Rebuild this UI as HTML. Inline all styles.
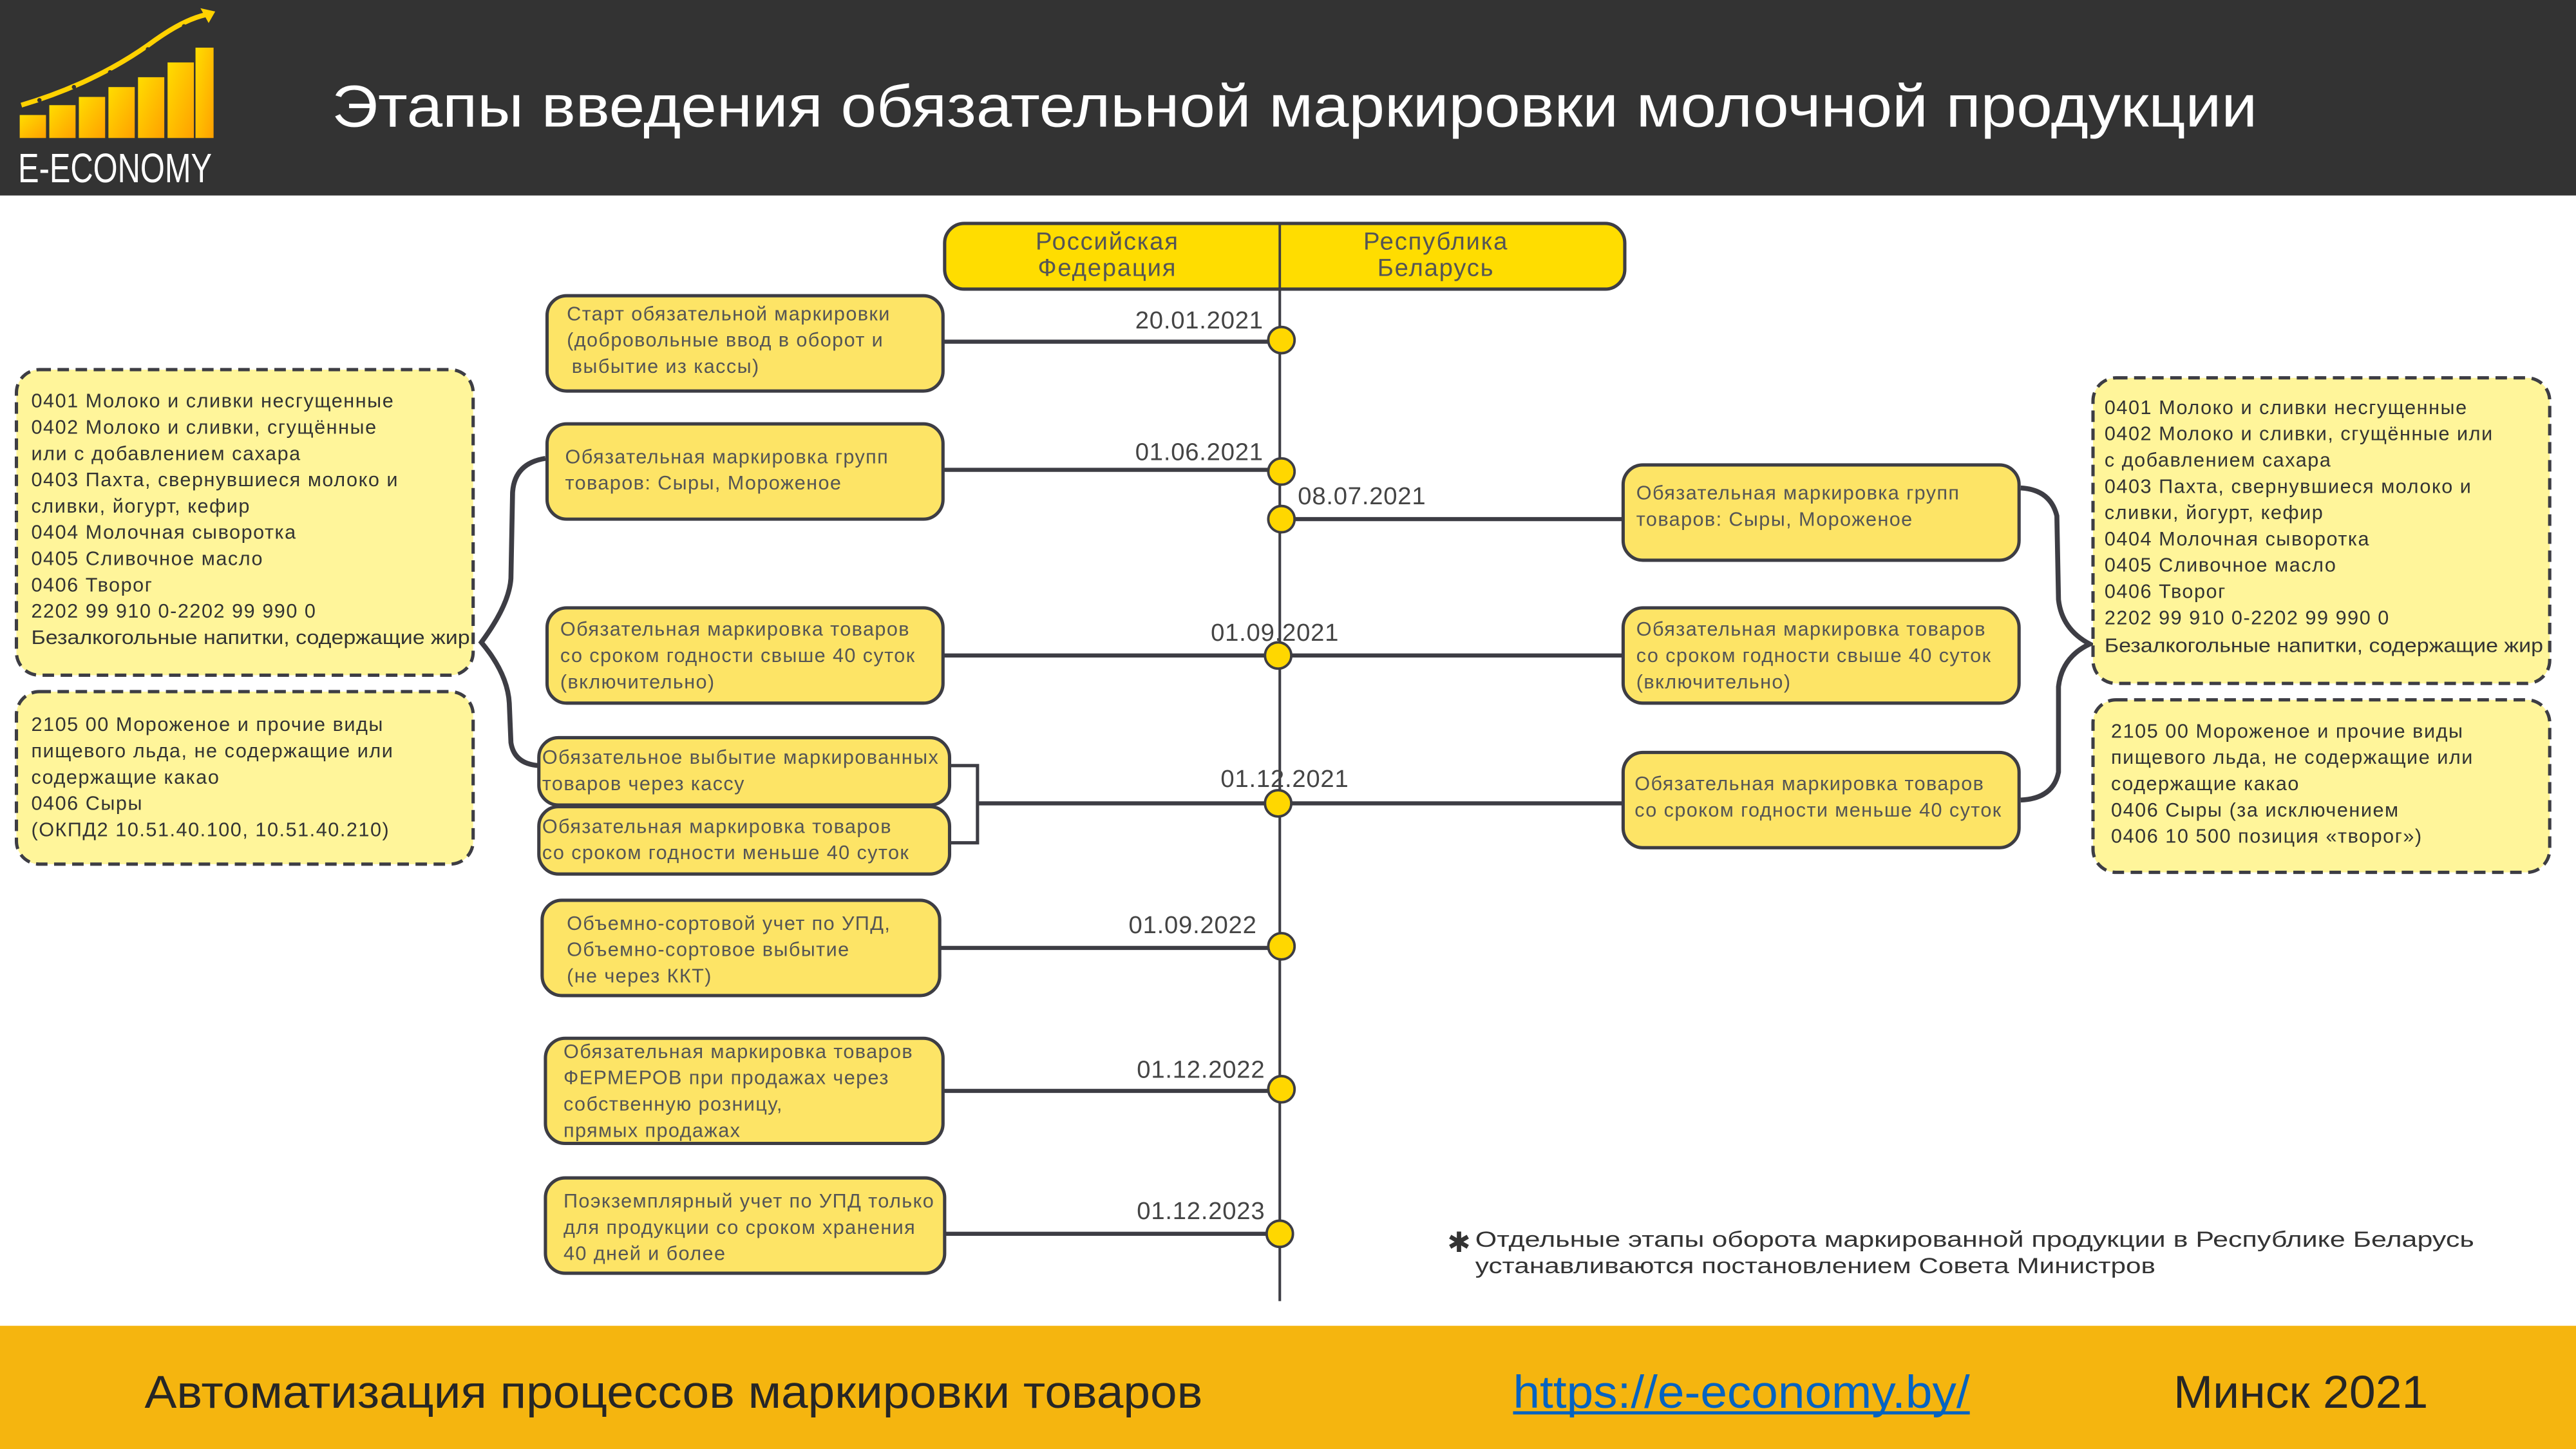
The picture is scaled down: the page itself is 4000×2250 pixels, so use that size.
<!DOCTYPE html>
<html><head><meta charset="utf-8"><style>
html,body{margin:0;padding:0;background:#fff;}
svg{display:block;}
text{font-family:"Liberation Sans","DejaVu Sans",sans-serif;}
</style></head><body>
<svg width="4000" height="2250" viewBox="0 0 1568 882" preserveAspectRatio="none" xmlns="http://www.w3.org/2000/svg">
<defs>
<linearGradient id="bar" x1="0" y1="0" x2="1" y2="1"><stop offset="0" stop-color="#FFDD00"/><stop offset="1" stop-color="#FFA000"/></linearGradient>
</defs>
<rect x="0" y="0" width="1568" height="882" fill="#fff"/>
<!-- header -->
<rect x="0" y="0" width="1568" height="119" fill="#333333"/>
<g fill="url(#bar)">
<rect x="12" y="70" width="16" height="14"/><rect x="30" y="64" width="16" height="20"/>
<rect x="48" y="59" width="16" height="25"/><rect x="66" y="53" width="16" height="31"/>
<rect x="84" y="47" width="16" height="37"/><rect x="102" y="38" width="16" height="46"/>
<rect x="119" y="29" width="11" height="55"/>
</g>
<path d="M13 64 Q60 50 95 24 Q112 12 125 9" stroke="#FFD200" stroke-width="3" fill="none"/>
<g fill="#333"><circle cx="24" cy="61" r="1.3"/><circle cx="45" cy="53" r="1.3"/><circle cx="67" cy="44" r="1.3"/><circle cx="90" cy="30" r="1.3"/><circle cx="112" cy="16" r="1.3"/></g>
<path d="M122 5 L131 7 L127 14 Z" fill="#FFD200"/>
<text x="11" y="111" font-size="25" fill="#fff" textLength="118" lengthAdjust="spacingAndGlyphs">E-ECONOMY</text>
<text x="202" y="77" font-size="36" fill="#fff" textLength="1172" lengthAdjust="spacingAndGlyphs">Этапы введения обязательной маркировки молочной продукции</text>

<!-- timeline -->
<line x1="779" y1="137" x2="779" y2="792" stroke="#3d3d44" stroke-width="1.6"/>
<rect x="575" y="136" width="414" height="40" rx="12" fill="#FFDD00" stroke="#3d3d44" stroke-width="2"/>
<line x1="779" y1="136" x2="779" y2="176" stroke="#3d3d44" stroke-width="1.5"/>
<g font-size="15" fill="#555" text-anchor="middle" letter-spacing="0.7">
<text x="674" y="152">Российская</text><text x="674" y="168">Федерация</text>
<text x="874" y="152">Республика</text><text x="874" y="168">Беларусь</text>
</g>

<!-- connectors -->
<g stroke="#3d3d44" stroke-width="2.5" fill="none">
<line x1="574" y1="208" x2="779" y2="208"/>
<line x1="574" y1="286" x2="779" y2="286"/>
<line x1="779" y1="316" x2="988" y2="316"/>
<line x1="574" y1="399" x2="988" y2="399"/>
<line x1="595" y1="489" x2="988" y2="489"/>
<line x1="572" y1="577" x2="779" y2="577"/>
<line x1="574" y1="664" x2="779" y2="664"/>
<line x1="575" y1="751" x2="779" y2="751"/>
<path d="M578 466 H595 V513 H578" stroke-width="2"/>
<path d="M332 279 Q313 282 312 300 L311 352 Q310 368 293 391 Q309 410 310 428 L311 452 Q313 465 328 466" stroke-width="3"/>
<path d="M1230 297 Q1248 298 1252 314 L1253 365 Q1255 383 1272 392 Q1255 400 1253 418 L1253 470 Q1250 486 1230 487" stroke-width="3"/>
</g>
<g fill="#FFD700" stroke="#3d3d44" stroke-width="1.5">
<circle cx="780" cy="207" r="8"/><circle cx="780" cy="287" r="8"/><circle cx="780" cy="316" r="8"/>
<circle cx="778" cy="399" r="8"/><circle cx="778" cy="489" r="8"/><circle cx="780" cy="576" r="8"/>
<circle cx="780" cy="663" r="8"/><circle cx="779" cy="751" r="8"/>
</g>
<g font-size="15" fill="#444" letter-spacing="0.3">
<text x="691" y="200">20.01.2021</text>
<text x="691" y="280">01.06.2021</text>
<text x="790" y="307">08.07.2021</text>
<text x="737" y="390">01.09.2021</text>
<text x="743" y="479">01.12.2021</text>
<text x="687" y="568">01.09.2022</text>
<text x="692" y="656">01.12.2022</text>
<text x="692" y="742">01.12.2023</text>
</g>

<!-- solid boxes -->
<g fill="#FDE466" stroke="#3d3d44" stroke-width="2">
<rect x="333" y="180" width="241" height="58" rx="12"/>
<rect x="333" y="258" width="241" height="58" rx="12"/>
<rect x="988" y="283" width="241" height="58" rx="12"/>
<rect x="333" y="370" width="241" height="58" rx="12"/>
<rect x="988" y="370" width="241" height="58" rx="12"/>
<rect x="328" y="449" width="250" height="41" rx="12"/>
<rect x="328" y="491" width="250" height="41" rx="12"/>
<rect x="988" y="458" width="241" height="58" rx="12"/>
<rect x="330" y="548" width="242" height="58" rx="12"/>
<rect x="332" y="632" width="242" height="64" rx="12"/>
<rect x="332" y="717" width="243" height="58" rx="12"/>
</g>
<g font-size="12" fill="#555" letter-spacing="0.55">
<text x="345" y="195">Старт обязательной маркировки</text>
<text x="345" y="211">(добровольные ввод в оборот и</text>
<text x="348" y="227">выбытие из кассы)</text>
<text x="344" y="282">Обязательная маркировка групп</text>
<text x="344" y="298">товаров: Сыры, Мороженое</text>
<text x="996" y="304">Обязательная маркировка групп</text>
<text x="996" y="320">товаров: Сыры, Мороженое</text>
<text x="341" y="387">Обязательная маркировка товаров</text>
<text x="341" y="403">со  сроком годности свыше 40 суток</text>
<text x="341" y="419">(включительно)</text>
<text x="996" y="387">Обязательная маркировка товаров</text>
<text x="996" y="403">со  сроком годности свыше 40 суток</text>
<text x="996" y="419">(включительно)</text>
<text x="330" y="465">Обязательное выбытие маркированных</text>
<text x="330" y="481">товаров через кассу</text>
<text x="330" y="507">Обязательная маркировка товаров</text>
<text x="330" y="523">со  сроком годности меньше 40 суток</text>
<text x="995" y="481">Обязательная маркировка товаров</text>
<text x="995" y="497">со  сроком годности меньше 40 суток</text>
<text x="345" y="566">Объемно-сортовой учет по УПД,</text>
<text x="345" y="582">Объемно-сортовое выбытие</text>
<text x="345" y="598">(не через ККТ)</text>
<text x="343" y="644">Обязательная маркировка товаров</text>
<text x="343" y="660">ФЕРМЕРОВ при продажах через</text>
<text x="343" y="676">собственную розницу,</text>
<text x="343" y="692">прямых продажах</text>
<text x="343" y="735">Поэкземплярный учет по УПД только</text>
<text x="343" y="751">для продукции со сроком хранения</text>
<text x="343" y="767">40 дней и более</text>
</g>

<!-- dashed boxes -->
<g fill="#FFF59A" stroke="#3d3d44" stroke-width="2" stroke-dasharray="7 4">
<rect x="10" y="225" width="278" height="186" rx="14"/>
<rect x="10" y="421" width="278" height="105" rx="14"/>
<rect x="1274" y="230" width="278" height="186" rx="14"/>
<rect x="1274" y="426" width="278" height="105" rx="14"/>
</g>
<g font-size="12" fill="#333" letter-spacing="0.6">
<text x="19" y="248">0401 Молоко и сливки несгущенные</text>
<text x="19" y="264">0402 Молоко и сливки, сгущённые</text>
<text x="19" y="280">или с добавлением сахара</text>
<text x="19" y="296">0403 Пахта, свернувшиеся молоко и</text>
<text x="19" y="312">сливки, йогурт, кефир</text>
<text x="19" y="328">0404 Молочная сыворотка</text>
<text x="19" y="344">0405 Сливочное масло</text>
<text x="19" y="360">0406 Творог</text>
<text x="19" y="376">2202 99 910 0-2202 99 990 0</text>
<text x="19" y="392" textLength="267" lengthAdjust="spacingAndGlyphs" letter-spacing="0">Безалкогольные напитки, содержащие жир</text>
<text x="19" y="445">2105 00 Мороженое и прочие виды</text>
<text x="19" y="461">пищевого льда, не содержащие или</text>
<text x="19" y="477">содержащие какао</text>
<text x="19" y="493">0406 Сыры</text>
<text x="19" y="509">(ОКПД2 10.51.40.100, 10.51.40.210)</text>
<text x="1281" y="252">0401 Молоко и сливки несгущенные</text>
<text x="1281" y="268">0402 Молоко и сливки, сгущённые или</text>
<text x="1281" y="284">с добавлением сахара</text>
<text x="1281" y="300">0403 Пахта, свернувшиеся молоко и</text>
<text x="1281" y="316">сливки, йогурт, кефир</text>
<text x="1281" y="332">0404 Молочная сыворотка</text>
<text x="1281" y="348">0405 Сливочное масло</text>
<text x="1281" y="364">0406 Творог</text>
<text x="1281" y="380">2202 99 910 0-2202 99 990 0</text>
<text x="1281" y="397" textLength="267" lengthAdjust="spacingAndGlyphs" letter-spacing="0">Безалкогольные напитки, содержащие жир</text>
<text x="1285" y="449">2105 00 Мороженое и прочие виды</text>
<text x="1285" y="465">пищевого льда, не содержащие или</text>
<text x="1285" y="481">содержащие какао</text>
<text x="1285" y="497">0406  Сыры (за исключением</text>
<text x="1285" y="513">0406 10 500 позиция «творог»)</text>
</g>

<!-- note -->
<text x="881" y="762" font-size="17" font-weight="bold" fill="#333">✱</text>
<text x="898" y="759" font-size="13.5" fill="#333" textLength="608" lengthAdjust="spacingAndGlyphs">Отдельные этапы оборота маркированной продукции в Республике Беларусь</text>
<text x="898" y="775" font-size="13.5" fill="#333" textLength="414" lengthAdjust="spacingAndGlyphs">устанавливаются постановлением Совета Министров</text>

<!-- footer -->
<rect x="0" y="807" width="1568" height="75" fill="#F5B50F"/>
<text x="88" y="857" font-size="28" fill="#262626" textLength="644" lengthAdjust="spacingAndGlyphs">Автоматизация процессов маркировки товаров</text>
<text x="921" y="857" font-size="28" fill="#0563C1" textLength="278" lengthAdjust="spacingAndGlyphs">https://e-economy.by/</text>
<line x1="921" y1="860" x2="1199" y2="860" stroke="#0563C1" stroke-width="2"/>
<text x="1323" y="857" font-size="28" fill="#262626" textLength="155" lengthAdjust="spacingAndGlyphs">Минск 2021</text>
</svg>
</body></html>
